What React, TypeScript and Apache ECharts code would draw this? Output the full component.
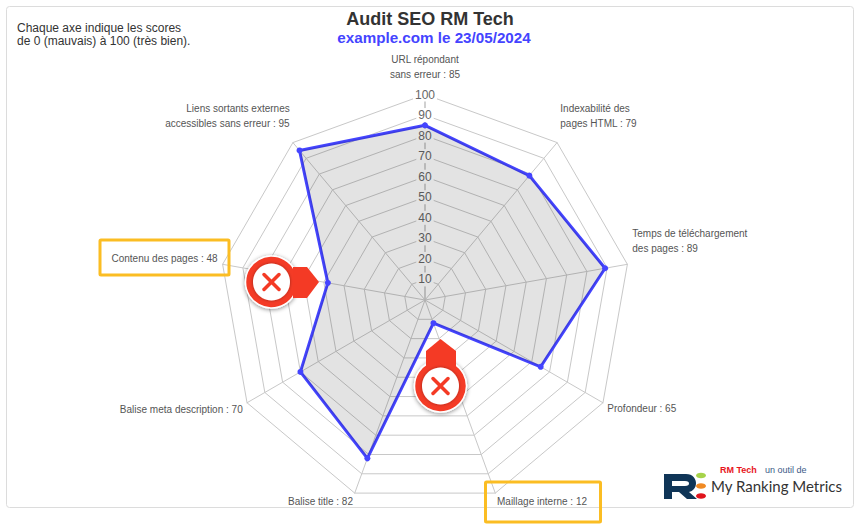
import React, { useEffect, useRef } from "react";
import * as echarts from "echarts";

const axisNames = [
  "URL répondant\nsans erreur : 85",
  "Liens sortants externes\naccessibles sans erreur : 95",
  "Contenu des pages : 48",
  "Balise meta description : 70",
  "Balise title : 82",
  "Maillage interne : 12",
  "Profondeur : 65",
  "Temps de téléchargement\ndes pages : 89",
  "Indexabilité des\npages HTML : 79",
];
const scores = [85, 95, 48, 70, 82, 12, 65, 89, 79];
const titleText = "Audit SEO RM Tech";
const subtitleText = "example.com le 23/05/2024";
const noteText = "Chaque axe indique les scores\nde 0 (mauvais) à 100 (très bien).";

const SANS = '"Liberation Sans", Arial, sans-serif';
const RED = "#f43a25";
const BLUE = "#4444ff";
const YELLOW = "#fbbd23";
const NAVY = "#0f3557";

// top / bottom padding per label, in order of axisNames
const namePad: [number, number][] = [
  [0, 8], [0, 46], [0, 10], [8, 0], [8, 0], [8, 0], [6, 0], [0, 44], [0, 46],
];

const badge = (cx: number, cy: number, pointer: number[][]) => [
  { type: "polygon", z: 20, shape: { points: pointer }, style: { fill: RED } },
  {
    type: "circle", z: 19, shape: { cx, cy, r: 26 },
    style: { fill: RED, stroke: "#fff", lineWidth: 1.5, shadowBlur: 4, shadowColor: "rgba(0,0,0,0.45)", shadowOffsetY: 1 },
  },
  {
    type: "circle", z: 21, shape: { cx, cy, r: 18.5 },
    style: { fill: "#fff", shadowBlur: 3, shadowColor: "rgba(0,0,0,0.4)" },
  },
  { type: "line", z: 22, shape: { x1: cx - 7.5, y1: cy - 7.5, x2: cx + 7.5, y2: cy + 7.5 }, style: { stroke: RED, lineWidth: 3.5, lineCap: "round" } },
  { type: "line", z: 22, shape: { x1: cx - 7.5, y1: cy + 7.5, x2: cx + 7.5, y2: cy - 7.5 }, style: { stroke: RED, lineWidth: 3.5, lineCap: "round" } },
];

const LOGO_R =
  "M0 0H22C29 0 32 5 32 9C32 14 29 17 25 18L33 25H23L15 18H8V25H0ZM8 7V12H21C24 12 25 11 25 9.5C25 8 24 7 21 7Z";

const App = () => {
  const ref = useRef<HTMLDivElement>(null);
  useEffect(() => {
    document.body.style.margin = "0";
    echarts.graphic.registerShape("logoR", echarts.graphic.extendPath(LOGO_R, {}) as any);
    const chart = echarts.init(ref.current!, undefined, { renderer: "svg" });
    const rich: Record<string, any> = {};
    axisNames.forEach((_, i) => {
      rich[`n${i}`] = { fontFamily: SANS, fontSize: 10, color: "#555", lineHeight: 15, padding: [namePad[i][0], 0, namePad[i][1], 0] };
    });
    chart.setOption({
      animation: false,
      backgroundColor: "#fff",
      title: [
        {
          text: titleText, left: 425, top: 5, textAlign: "center",
          textStyle: { fontFamily: SANS, fontSize: 18, fontWeight: "bold", color: "#333" },
        },
        {
          text: subtitleText, left: 429, top: 25, textAlign: "center",
          textStyle: { fontFamily: SANS, fontSize: 15.2, fontWeight: "bold", color: BLUE },
        },
        {
          text: noteText, left: 12, top: 16,
          textStyle: { fontFamily: SANS, fontSize: 12, fontWeight: "normal", color: "#333", lineHeight: 13 },
        },
      ],
      radar: {
        center: [425, 300],
        radius: 205.5,
        splitNumber: 10,
        startAngle: 90,
        shape: "polygon",
        nameGap: 5,
        axisName: {
          show: true,
          formatter: (name: string) => {
            const i = axisNames.indexOf(name);
            return name.split("\n").map((l) => `{n${i}|${l}}`).join("\n");
          },
          rich,
        },
        splitLine: { lineStyle: { color: "#c8c8c8", width: 1 } },
        splitArea: { show: false },
        axisLine: { lineStyle: { color: "#c8c8c8", width: 1 } },
        axisTick: { show: false },
        axisLabel: { show: false },
        indicator: axisNames.map((name, i) => ({
          name, min: 0, max: 100,
          ...(i === 0
            ? {
                axisLine: { lineStyle: { color: "#d0d0d0", width: 2 } },
                axisLabel: {
                  show: true, margin: 0, align: "center", verticalAlign: "middle",
                  showMinLabel: false,
                  formatter: (v: number) => (v === 0 ? "" : `{t|${v}}`),
                  rich: {
                    t: { fontFamily: SANS, fontSize: 12, color: "#666", backgroundColor: "#fff", padding: [1, 2] },
                  },
                },
              }
            : {}),
        })),
      },
      series: [
        {
          type: "radar",
          symbol: "circle",
          symbolSize: 6,
          lineStyle: { color: BLUE, width: 3 },
          itemStyle: { color: BLUE },
          areaStyle: { color: "rgba(0,0,0,0.11)", opacity: 1 },
          data: [{ value: scores, name: "Score" }],
        },
      ],
      graphic: [
        { type: "rect", z: -1, shape: { x: 6.5, y: 6.5, width: 847, height: 501, r: 3 }, style: { fill: "#fff", stroke: "#dcdcdc", lineWidth: 1 } },
        { type: "rect", z: 15, shape: { x: 100, y: 240, width: 129, height: 35, r: 1 }, style: { fill: "none", stroke: YELLOW, lineWidth: 3 } },
        { type: "rect", z: 15, shape: { x: 485.5, y: 482, width: 115, height: 40, r: 1 }, style: { fill: "none", stroke: YELLOW, lineWidth: 3 } },
        ...badge(271.5, 282, [[293, 267], [307, 267], [319, 282], [307, 298], [293, 298]]),
        ...badge(440.5, 386, [[440.5, 339], [456, 351], [456, 368], [426, 368], [426, 351]]),
        { type: "logoR", x: 664, y: 474, z: 15, style: { fill: NAVY } },
        { type: "ellipse", z: 15, shape: { cx: 701, cy: 475.5, rx: 5, ry: 2.8 }, style: { fill: "#a6d34a" } },
        { type: "ellipse", z: 15, shape: { cx: 701, cy: 486, rx: 5, ry: 2.8 }, style: { fill: "#f08a24" } },
        { type: "ellipse", z: 15, shape: { cx: 701, cy: 496, rx: 5, ry: 2.8 }, style: { fill: "#e0141c" } },
        { type: "text", z: 15, x: 720, y: 465, style: { text: "RM Tech", fontFamily: SANS, fontSize: 9, fontWeight: "bold", fill: "#e8141c" } },
        { type: "text", z: 15, x: 765, y: 465, style: { text: "un outil de", fontFamily: SANS, fontSize: 9, fill: "#3c5a88" } },
        { type: "text", z: 15, x: 711, y: 478, style: { text: "My Ranking Metrics", fontFamily: "Lato, sans-serif", fontSize: 15, fill: "#333" } },
      ],
    });
    return () => chart.dispose();
  }, []);
  return <div ref={ref} style={{ width: 860, height: 524 }} />;
};

export default App;
